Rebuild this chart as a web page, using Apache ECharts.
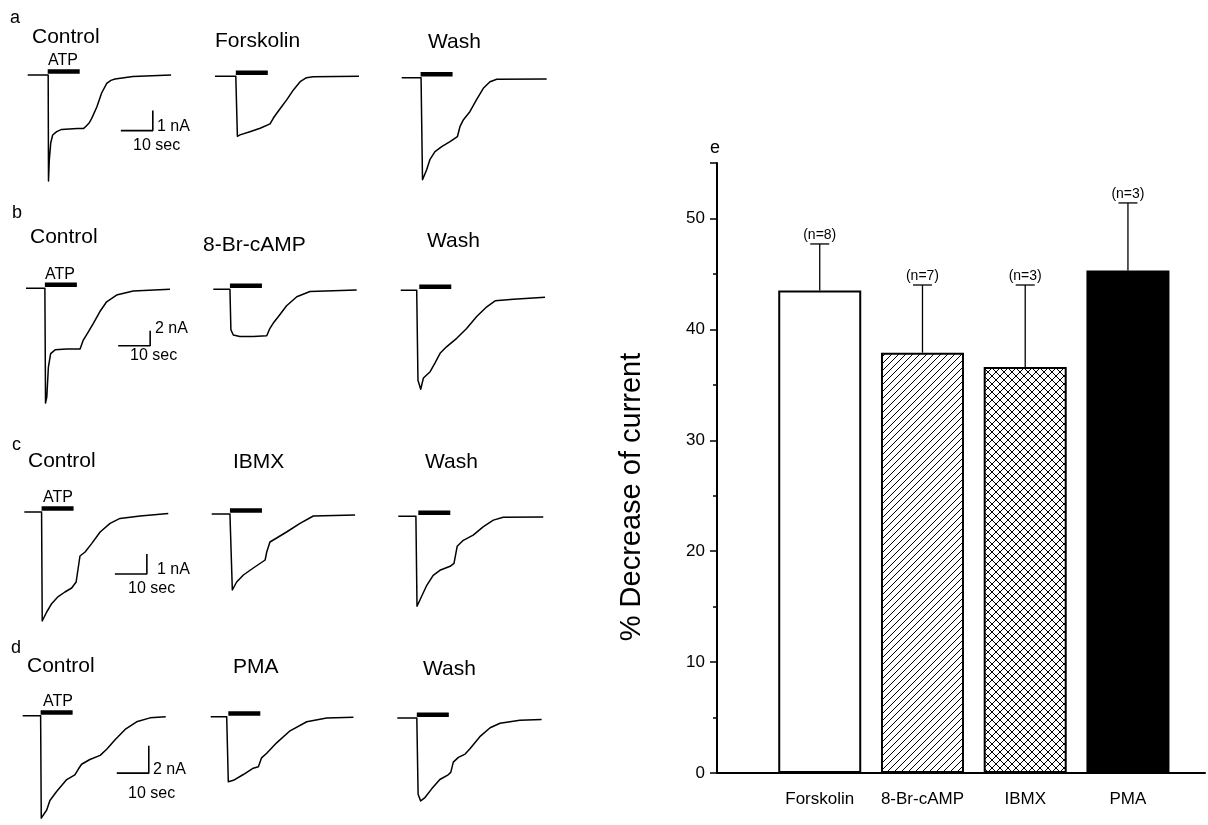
<!DOCTYPE html>
<html><head><meta charset="utf-8">
<script src="https://cdn.jsdelivr.net/npm/echarts@6/dist/echarts.min.js"></script>
<style>html,body{margin:0;padding:0;background:#fff}#c{width:1208px;height:825px}</style>
</head><body><div id="c"></div>
<script>
// ================= DATA =================
// Panel e: % decrease of ATP-evoked current
const treatments = ['Forskolin', '8-Br-cAMP', 'IBMX', 'PMA'];
const pctDecrease = [43.5, 37.9, 36.6, 45.3];
const semPct = [4.2, 6.1, 7.4, 6.1];
const nCells = [8, 7, 3, 3];
const yTickStep = 10;
const yTitle = '% Decrease of current';

// Panels a-d: current traces, [time (s), current (nA)]
const rowLetters = ['a', 'b', 'c', 'd'];
const conditions = [
  ['Control', 'Forskolin', 'Wash'],
  ['Control', '8-Br-cAMP', 'Wash'],
  ['Control', 'IBMX', 'Wash'],
  ['Control', 'PMA', 'Wash']
];
const scaleNA = [1, 2, 1, 2];   // vertical scale bar (nA)
const scaleSec = 10;            // horizontal scale bar (s)
const atpDuration = 10;         // s
const atpOnset = [[6.25, 6.5, 5.9], [5.9, 5.2, 5.8], [5.4, 5.7, 6.25], [5.6, 5.5, 6.1]];

const traceA_ctrl = [[0,0],[6.4,0],[6.5,-5.3],[6.75,-4.25],[7.2,-3.4],[7.8,-3.0],[9.05,-2.83],[10.6,-2.72],[13,-2.7],[15.5,-2.68],[17.4,-2.68],[18.3,-2.55],[19.2,-2.4],[20.0,-2.17],[21.6,-1.6],[23.1,-0.9],[24.7,-0.42],[26,-0.27],[27.3,-0.2],[32.9,-0.08],[44.8,0]];
const traceA_forsk = [[0,0],[6.5,0],[7.0,-3.0],[7.8,-2.93],[10.9,-2.77],[14.1,-2.6],[17.2,-2.38],[18.2,-2.1],[19.3,-1.85],[20.8,-1.52],[22.4,-1.18],[24.5,-0.68],[26.6,-0.27],[28.6,-0.07],[30.7,-0.02],[45,0]];
const traceA_wash = [[0,0],[6.05,0],[6.5,-5.1],[7.8,-4.6],[8.8,-4.1],[10.4,-3.7],[12.5,-3.45],[15.1,-3.2],[17.4,-2.95],[18.2,-2.45],[19.3,-2.1],[21.3,-1.7],[23.4,-1.1],[25.5,-0.53],[27.6,-0.2],[29.7,-0.08],[45.3,-0.07]];

const traceB_ctrl = [[0,0],[5.9,0],[6.1,-15.3],[6.5,-14.5],[7.0,-10.5],[7.7,-8.7],[9.1,-8.2],[12.7,-8.1],[16.9,-8.1],[17.9,-6.9],[19.2,-6.0],[21.0,-4.7],[23.1,-3.1],[25.2,-1.8],[28.3,-0.9],[33.5,-0.36],[45,-0.13]];
const traceB_8br = [[0,0],[5.2,0],[5.5,-5.4],[6.25,-6.1],[8.3,-6.3],[12.5,-6.3],[16.7,-6.2],[17.7,-5.2],[18.75,-4.5],[20.3,-3.65],[22.9,-2.2],[26.1,-1.0],[30.2,-0.3],[44.8,-0.1]];
const traceB_wash = [[0,0],[5.0,0],[5.4,-12.0],[6.25,-13.2],[7.1,-11.7],[9.2,-10.85],[10.7,-9.7],[12.3,-8.4],[14.4,-7.5],[17.5,-6.4],[20.6,-5.1],[23.75,-3.5],[26.9,-2.2],[29.5,-1.4],[35.2,-1.2],[45.1,-0.93]];

const traceC_ctrl = [[0,0],[5.4,0],[5.6,-5.45],[5.9,-5.4],[7.0,-5.0],[8.6,-4.57],[10.6,-4.23],[12.7,-4.0],[14.8,-3.8],[16.2,-3.5],[17.4,-2.2],[19.0,-2.0],[21.1,-1.57],[23.7,-1.0],[26.8,-0.57],[29.9,-0.32],[36.2,-0.2],[45,-0.07]];
const traceC_ibmx = [[0,0],[5.7,0],[6.45,-3.8],[7.8,-3.4],[9.9,-3.05],[13.0,-2.7],[16.7,-2.3],[17.2,-1.9],[18.2,-1.4],[20.3,-1.2],[23.4,-0.9],[27.6,-0.47],[31.75,-0.1],[44.8,-0.05]];
const traceC_wash = [[0,0],[5.5,0],[5.85,-4.5],[7.3,-4.0],[8.9,-3.45],[10.9,-2.95],[13.0,-2.7],[16.2,-2.5],[17.4,-2.35],[18.4,-1.5],[20.3,-1.2],[23.4,-0.94],[26.6,-0.52],[29.7,-0.19],[32.8,-0.05],[45.3,-0.04]];

const traceD_ctrl = [[0,0],[5.6,0],[5.8,-7.5],[6.3,-7.4],[7.5,-6.9],[8.5,-6.2],[10.6,-5.55],[13.75,-4.67],[16.3,-4.33],[17.4,-3.9],[18.4,-3.55],[21.0,-3.2],[24.2,-2.9],[26.25,-2.45],[28.8,-1.77],[32.0,-1.0],[35.6,-0.44],[39.8,-0.15],[44.7,-0.07]];
const traceD_pma = [[0,0],[5.0,0],[5.5,-4.8],[7.1,-4.7],[10.2,-4.27],[13.3,-3.8],[14.9,-3.7],[15.9,-3.04],[17.5,-2.7],[20.6,-1.93],[24.8,-1.04],[30.0,-0.37],[36.25,-0.1],[44.6,-0.04]];
const traceD_wash = [[0,0],[6.1,0],[6.5,-5.7],[7.3,-6.2],[8.65,-5.95],[10.75,-5.3],[13.3,-4.6],[15.9,-4.25],[16.7,-4.07],[17.5,-3.3],[19.1,-2.95],[21.2,-2.7],[22.7,-2.3],[25.8,-1.4],[29.0,-0.73],[32.1,-0.4],[38.3,-0.18],[45.1,-0.11]];

const traces = [
  [traceA_ctrl, traceA_forsk, traceA_wash],
  [traceB_ctrl, traceB_8br, traceB_wash],
  [traceC_ctrl, traceC_ibmx, traceC_wash],
  [traceD_ctrl, traceD_pma, traceD_wash]
];

// ================= LAYOUT (pixels) =================
const FONT = '"Liberation Sans", Arial, Helvetica, sans-serif';
const traceLeft = [[27.7, 215, 401.7], [26, 213.3, 400.7], [24.3, 211.7, 398.3], [22.7, 210.7, 397.3]];
const traceBaseline = [[75, 76.3, 77.7], [288.3, 289.3, 290.3], [512, 514, 516.3], [716.7, 717.7, 719]];
const pxPerNA = [20, 7.5, 20, 15];
const pxPerSec = 3.2;
const timeMax = 46;
const yLow = [-6, -16, -6, -8];
const topPadPx = 10;
const atpBarOffsetPx = 3.5;
const scaleAnchor = [[29.1, -2.78], [28.8, -7.65], [28.3, -3.1], [29.4, -4.2]]; // in control-grid data units
const letterPos = [[10, 18], [12, 213], [12, 445], [11, 648]];
const titlePos = [
  [[32, 37], [215, 41], [428, 42]],
  [[30, 237], [203, 245], [427, 241]],
  [[28, 461], [233, 462], [425, 462]],
  [[27, 666], [233, 667], [423, 669]]
];
const atpTextPos = [[48, 61], [45, 275], [43, 498], [43, 702]];
const nATextPos = [[157, 127], [155, 329], [157, 570], [153, 770]];
const secTextPos = [[133, 146], [130, 356], [128, 589], [128, 794]];

// ================= BUILD =================
function pattern(size, cross) {
  const c = document.createElement('canvas');
  c.width = size; c.height = size;
  const g = c.getContext('2d');
  g.fillStyle = '#fff'; g.fillRect(0, 0, size, size);
  g.strokeStyle = '#000'; g.lineWidth = 1;
  g.beginPath();
  g.moveTo(0, size); g.lineTo(size, 0);
  g.moveTo(-size / 2, size / 2); g.lineTo(size / 2, -size / 2);
  g.moveTo(size / 2, size * 1.5); g.lineTo(size * 1.5, size / 2);
  if (cross) {
    g.moveTo(0, 0); g.lineTo(size, size);
    g.moveTo(-size / 2, size / 2); g.lineTo(size / 2, size * 1.5);
    g.moveTo(size / 2, -size / 2); g.lineTo(size * 1.5, size / 2);
  }
  g.stroke();
  return c;
}
const fills = ['#fff', { image: pattern(7, false), repeat: 'repeat' }, { image: pattern(8, true), repeat: 'repeat' }, '#000'];

const grids = [{ left: 717, right: 3, top: 163, bottom: 52 }];
const xAxes = [{
  gridIndex: 0, type: 'value', min: 0, max: 4.75, interval: 1,
  axisLine: { lineStyle: { color: '#000', width: 2 } },
  axisTick: { show: false }, splitLine: { show: false },
  axisLabel: {
    margin: 18, color: '#000', fontSize: 17, fontFamily: FONT,
    formatter: v => (Number.isInteger(v) && v >= 1 && v <= treatments.length) ? treatments[v - 1] : ''
  }
}];
const yAxes = [{
  gridIndex: 0, type: 'value', min: 0, max: 55, interval: yTickStep,
  axisLine: { show: true, lineStyle: { color: '#000', width: 2 } },
  axisTick: { show: true, length: 7, lineStyle: { color: '#000', width: 1.5 } },
  minorTick: { show: true, splitNumber: 2, length: 4, lineStyle: { color: '#000', width: 1.5 } },
  splitLine: { show: false }, minorSplitLine: { show: false },
  axisLabel: { margin: 12, color: '#000', fontSize: 17, fontFamily: FONT,
    formatter: v => (v % yTickStep === 0 ? String(v) : '') }
}];

const series = [];
series.push({
  type: 'bar', xAxisIndex: 0, yAxisIndex: 0, barWidth: 83,
  data: treatments.map((t, i) => ({ value: [i + 1, pctDecrease[i]], itemStyle: { color: fills[i] } })),
  itemStyle: { borderColor: '#000', borderWidth: 2 },
  emphasis: { disabled: true }
});
series.push({
  type: 'custom', xAxisIndex: 0, yAxisIndex: 0, z: 5,
  data: treatments.map((t, i) => [i + 1, pctDecrease[i], semPct[i], nCells[i]]),
  renderItem: (params, api) => {
    const x = api.value(0), m = api.value(1), s = api.value(2);
    const p0 = api.coord([x, m]), p1 = api.coord([x, m + s]);
    const cap = 9.5;
    return { type: 'group', children: [
      { type: 'line', shape: { x1: p0[0], y1: p0[1], x2: p1[0], y2: p1[1] }, style: { stroke: '#000', lineWidth: 1.3 } },
      { type: 'line', shape: { x1: p1[0] - cap, y1: p1[1], x2: p1[0] + cap, y2: p1[1] }, style: { stroke: '#000', lineWidth: 1.3 } },
      { type: 'text', x: p1[0], y: p1[1] - 9, style: { text: '(n=' + api.value(3) + ')', textAlign: 'center', textVerticalAlign: 'middle', font: '14px ' + FONT, fill: '#000' } }
    ] };
  }
});

const graphics = [];
let gi = 1;
for (let r = 0; r < 4; r++) {
  for (let c = 0; c < 3; c++) {
    const px = pxPerNA[r];
    const yHi = topPadPx / px;
    grids.push({ left: traceLeft[r][c], top: traceBaseline[r][c] - topPadPx, width: timeMax * pxPerSec, height: (yHi - yLow[r]) * px });
    xAxes.push({ gridIndex: gi, type: 'value', min: 0, max: timeMax, show: false });
    yAxes.push({ gridIndex: gi, type: 'value', min: yLow[r], max: yHi, show: false });
    series.push({ type: 'line', xAxisIndex: gi, yAxisIndex: gi, data: traces[r][c], showSymbol: false, symbol: 'none',
      lineStyle: { color: '#000', width: 1.5, join: 'round' }, clip: false });
    const yb = atpBarOffsetPx / px;
    series.push({ type: 'line', xAxisIndex: gi, yAxisIndex: gi, symbol: 'none',
      data: [[atpOnset[r][c], yb], [atpOnset[r][c] + atpDuration, yb]], lineStyle: { color: '#000', width: 4.5, cap: 'butt' } });
    if (c === 0) {
      const [t0, i0] = scaleAnchor[r];
      series.push({ type: 'line', xAxisIndex: gi, yAxisIndex: gi, symbol: 'none',
        data: [[t0, i0], [t0 + scaleSec, i0], [t0 + scaleSec, i0 + scaleNA[r]]], lineStyle: { color: '#000', width: 1.6 } });
    }
    graphics.push({ type: 'text', x: titlePos[r][c][0], y: titlePos[r][c][1],
      style: { text: conditions[r][c], font: '21px ' + FONT, fill: '#000', textAlign: 'left', textVerticalAlign: 'middle' } });
    gi++;
  }
  graphics.push({ type: 'text', x: letterPos[r][0], y: letterPos[r][1],
    style: { text: rowLetters[r], font: '18px ' + FONT, fill: '#000', textAlign: 'left', textVerticalAlign: 'middle' } });
  graphics.push({ type: 'text', x: atpTextPos[r][0], y: atpTextPos[r][1],
    style: { text: 'ATP', font: '16px ' + FONT, fill: '#000', textAlign: 'left', textVerticalAlign: 'middle' } });
  graphics.push({ type: 'text', x: nATextPos[r][0], y: nATextPos[r][1],
    style: { text: scaleNA[r] + ' nA', font: '16px ' + FONT, fill: '#000', textAlign: 'left', textVerticalAlign: 'middle' } });
  graphics.push({ type: 'text', x: secTextPos[r][0], y: secTextPos[r][1],
    style: { text: scaleSec + ' sec', font: '16px ' + FONT, fill: '#000', textAlign: 'left', textVerticalAlign: 'middle' } });
}
graphics.push({ type: 'text', x: 710, y: 148,
  style: { text: 'e', font: '18px ' + FONT, fill: '#000', textAlign: 'left', textVerticalAlign: 'middle' } });
graphics.push({ type: 'text', x: 632, y: 497, rotation: Math.PI / 2,
  style: { text: yTitle, font: '29px ' + FONT, fill: '#000', textAlign: 'center', textVerticalAlign: 'middle' } });

const chart = echarts.init(document.getElementById('c'), null, { renderer: 'canvas' });
chart.setOption({
  backgroundColor: '#fff', animation: false,
  grid: grids, xAxis: xAxes, yAxis: yAxes, series: series, graphic: graphics
});
</script>
</body></html>
